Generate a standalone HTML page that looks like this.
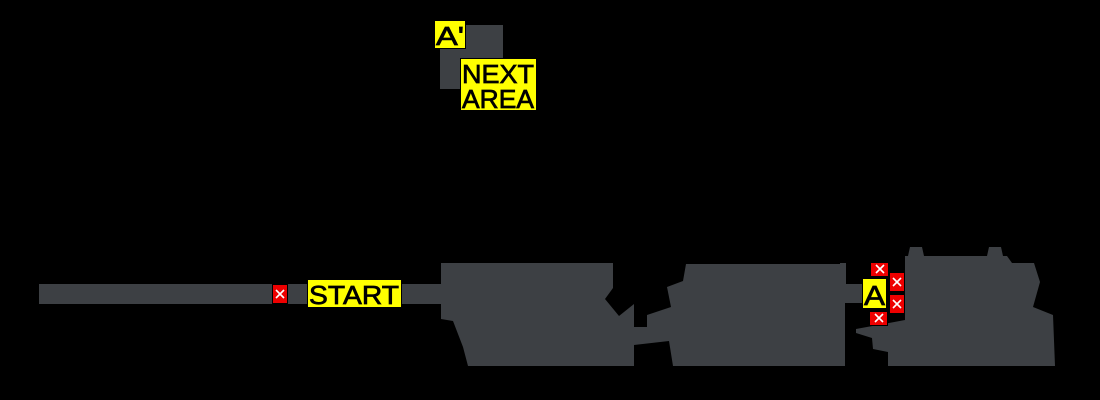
<!DOCTYPE html>
<html><head><meta charset="utf-8"><style>
html,body{margin:0;padding:0;background:#000;}
svg{display:block;}
.lbl{font-family:"Liberation Sans","DejaVu Sans",sans-serif;fill:#000;stroke:#000;stroke-width:0.7;}
</style></head><body>
<svg width="1100" height="400" viewBox="0 0 1100 400" xmlns="http://www.w3.org/2000/svg">
<g fill="#3d4044">
<rect x="39" y="284" width="405" height="20"/>
<rect x="440" y="25" width="63" height="64"/>
<polygon points="441,263 613,263 613,288 605,299 619,316 634,304 634,327 647,327 647,315 671,307 667,287 683,281 686,264 845,264 845,284 862,284 862,303 845,303 845,366 673,366 669,341 634,345 634,366 468,366 463,347 453,321 441,319"/>
<polygon points="905,256 908,256 910,247 922,247 924,256 987,256 989,247 1001,247 1003,256 1007,256 1012,263 1034,263 1040,282 1033,307 1053,315 1055,366 888,366 888,352 873,349 872,338 856,333 856,329 905,320"/>
<rect x="840" y="263" width="6" height="40"/>
</g>
<g stroke="#000" stroke-width="1">
<rect x="272.5" y="284.5" width="15" height="19" fill="#e00"/>
<rect x="870.5" y="262.5" width="18" height="14" fill="#e00"/>
<rect x="889.5" y="272.5" width="15" height="19" fill="#e00"/>
<rect x="889.5" y="294.5" width="15" height="19" fill="#e00"/>
<rect x="869.5" y="311.5" width="18" height="14" fill="#e00"/>
</g>
<g stroke="#fff" stroke-width="1.6">
<path d="M276,290 l8,8 M284,290 l-8,8"/>
<path d="M876,265 l8,8 M884,265 l-8,8"/>
<path d="M893,278 l8,8 M901,278 l-8,8"/>
<path d="M893,300 l8,8 M901,300 l-8,8"/>
<path d="M875,314 l8,8 M883,314 l-8,8"/>
</g>
<g fill="#ffff00" stroke="#000" stroke-width="1">
<rect x="307.5" y="279.5" width="94" height="28"/>
<rect x="862.5" y="278.5" width="24" height="30"/>
<rect x="434.5" y="20.5" width="31" height="28"/>
<rect x="460.5" y="58.5" width="76" height="52"/>
</g>
<text class="lbl" x="309" y="304" font-size="26" textLength="90" lengthAdjust="spacingAndGlyphs">START</text>
<text class="lbl" x="864" y="305" font-size="28" textLength="21" lengthAdjust="spacingAndGlyphs">A</text>
<text class="lbl" x="436" y="45" font-size="26" textLength="28" lengthAdjust="spacingAndGlyphs">A'</text>
<text class="lbl" x="462" y="83" font-size="26" textLength="72" lengthAdjust="spacingAndGlyphs">NEXT</text>
<text class="lbl" x="462" y="108" font-size="26" textLength="72" lengthAdjust="spacingAndGlyphs">AREA</text>
</svg>
</body></html>
